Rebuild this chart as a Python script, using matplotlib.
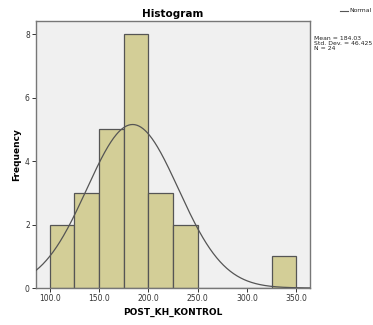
import numpy as np
import matplotlib
matplotlib.use("Agg")
import matplotlib.pyplot as plt

bin_edges = [100, 125, 150, 175, 200, 225, 250, 275, 300, 325, 350]
counts = [2, 3, 5, 8, 3, 2, 0, 0, 0, 1]
mean = 184.03
std = 46.425
n = 24
xticks = [100, 150, 200, 250, 300, 350]
xtick_labels = ["100.0", "150.0", "200.0", "250.0", "300.0", "350.0"]
yticks = [0, 2, 4, 6, 8]

W, H = 373, 325
fig = plt.figure(figsize=(W / 100, H / 100), dpi=100)
fig.patch.set_facecolor("white")
ax = fig.add_axes([36 / W, 1 - 288 / H, (310 - 36) / W, (288 - 21) / H])
ax.set_facecolor("#f0f0f0")

lefts = np.array(bin_edges[:-1])
widths = np.diff(bin_edges)
ax.bar(lefts, counts, width=widths, align="edge", color="#d3ce97",
       edgecolor="#555555", linewidth=0.9, zorder=2)

xs = np.linspace(86, 364, 400)
binw = widths[0]
ys = n * binw * np.exp(-0.5 * ((xs - mean) / std) ** 2) / (std * np.sqrt(2 * np.pi))
ax.plot(xs, ys, color="#555555", linewidth=0.9, zorder=3)

ax.set_xlim(86, 364)
ax.set_ylim(0, 8.42)
ax.set_xticks(xticks)
ax.set_xticklabels(xtick_labels)
ax.set_yticks(yticks)
ax.tick_params(axis="both", labelsize=5.5, length=3, width=0.7, colors="#333333", pad=1.5)
for s in ax.spines.values():
    s.set_color("#777777")
    s.set_linewidth(1.0)

ax.set_title("Histogram", fontsize=7.5, fontweight="bold", pad=3)
ax.set_xlabel("POST_KH_KONTROL", fontsize=6.5, fontweight="bold", labelpad=3)
ax.set_ylabel("Frequency", fontsize=6.5, fontweight="bold", labelpad=3)

fig.text(314 / W, 1 - 36 / H,
         f"Mean = {mean:.2f}\nStd. Dev. = {std:.3f}\nN = {n}",
         fontsize=4.4, va="top", ha="left", color="#222222", linespacing=1.0)
fig.lines.append(matplotlib.lines.Line2D([340 / W, 348 / W], [1 - 11 / H, 1 - 11 / H],
                                         transform=fig.transFigure, color="#555555", linewidth=0.8))
fig.text(349 / W, 1 - 11 / H, "Normal", fontsize=4.4, va="center", ha="left", color="#222222")

fig.savefig("out.png", dpi=100)
